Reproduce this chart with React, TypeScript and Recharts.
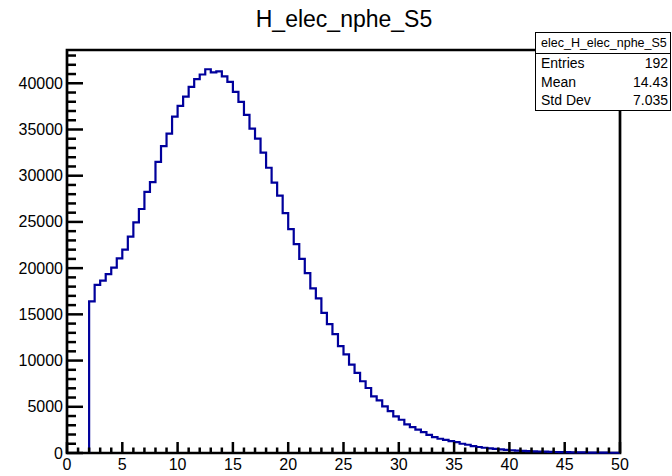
import { LineChart, Line, XAxis, YAxis, ReferenceArea } from "recharts";

// histogram binning (bins of 0.5, first filled bin starts at 2.0)
const BIN_LOW = 2;
const BIN_WIDTH = 0.5;
const X_MAX = 50;
const Y_MAX = 43600;

// bin contents
const COUNTS_2_12 = [16400, 18200, 18650, 19350, 20050, 21050, 22000, 23400, 24950, 26400, 28250, 29300, 31500, 33200, 34550, 36400, 37550, 38550, 39600, 40450];
const COUNTS_12_22 = [40950, 41520, 41170, 41280, 40740, 40150, 39070, 37990, 36580, 35090, 34010, 32490, 30860, 29250, 27850, 25960, 24220, 22590, 21000, 19450];
const COUNTS_22_32 = [17820, 16730, 15170, 13950, 12860, 11560, 10660, 9570, 8660, 7760, 7030, 6130, 5700, 5050, 4540, 3960, 3600, 3090, 2800, 2520];
const COUNTS_32_42 = [2260, 1970, 1710, 1540, 1430, 1280, 1170, 1000, 890, 740, 650, 570, 500, 440, 385, 335, 295, 260, 230, 200];
const COUNTS_42_50 = [180, 160, 140, 122, 107, 95, 84, 74, 65, 57, 50, 44, 38, 33, 29, 25];

const X_MAJOR = [0, 5, 10, 15, 20, 25, 30, 35, 40, 45, 50];
const Y_MAJOR = [0, 5000, 10000, 15000, 20000, 25000, 30000, 35000, 40000];
const X_MINOR_STEP = 1;
const Y_MINOR_STEP = 1000;

const TITLE = "H_elec_nphe_S5";
const STATS_NAME = "elec_H_elec_nphe_S5";
const STATS = [
  ["Entries", "192"],
  ["Mean", "14.43"],
  ["Std Dev", "7.035"],
];

const FONT = '"Liberation Sans", Arial, Helvetica, sans-serif';
const LINE_COLOR = "#00009c";

const counts = [...COUNTS_2_12, ...COUNTS_12_22, ...COUNTS_22_32, ...COUNTS_32_42, ...COUNTS_42_50];

// step points: rise from zero at the first edge, one point per bin low edge, close at the right edge
const data = [
  { x: BIN_LOW, y: 0 },
  ...counts.map((c, i) => ({ x: BIN_LOW + i * BIN_WIDTH, y: c })),
  { x: X_MAX, y: counts[counts.length - 1] },
];

const xTicks: number[] = [];
for (let v = 0; v <= X_MAX; v += X_MINOR_STEP) xTicks.push(v);
const yTicks: number[] = [];
for (let v = 0; v < Y_MAX; v += Y_MINOR_STEP) yTicks.push(v);

// ROOT style: ticks point into the frame
const renderXTick = ({ x, y, payload }: any) => {
  const major = X_MAJOR.includes(payload.value);
  return (
    <g>
      <line x1={x} x2={x} y1={y} y2={y - (major ? 11 : 5.5)} stroke="#000" strokeWidth={2.5} />
      {major && (
        <text x={x} y={y + 17} textAnchor="middle" fontSize={16} fontFamily={FONT} fill="#000">
          {payload.value}
        </text>
      )}
    </g>
  );
};

const renderYTick = ({ x, y, payload }: any) => {
  const major = Y_MAJOR.includes(payload.value);
  return (
    <g>
      <line x1={x} x2={x + (major ? 16 : 9)} y1={y} y2={y} stroke="#000" strokeWidth={2.5} />
      {major && (
        <text x={x - 4} y={y + 5.5} textAnchor="end" fontSize={16} fontFamily={FONT} fill="#000">
          {payload.value}
        </text>
      )}
    </g>
  );
};

export default function App() {
  return (
    <div style={{ position: "fixed", left: 0, top: 0, width: 672, height: 476, background: "#fff", fontFamily: FONT }}>
      <div style={{ position: "absolute", left: 0, width: 688, top: 6, textAlign: "center", fontSize: 23, color: "#000" }}>
        {TITLE}
      </div>
      <LineChart width={672} height={476} data={data} margin={{ top: 50, right: 52, left: 66, bottom: 22 }}>
        <XAxis
          dataKey="x"
          type="number"
          domain={[0, X_MAX]}
          ticks={xTicks}
          interval={0}
          height={1}
          axisLine={false}
          tickLine={false}
          tickSize={0}
          tickMargin={0}
          tick={renderXTick}
        />
        <YAxis
          type="number"
          domain={[0, Y_MAX]}
          ticks={yTicks}
          interval={0}
          width={1}
          axisLine={false}
          tickLine={false}
          tickSize={0}
          tickMargin={0}
          tick={renderYTick}
        />
        <ReferenceArea x1={0} x2={X_MAX} y1={0} y2={Y_MAX} fill="none" fillOpacity={0} stroke="#000" strokeWidth={2.7} ifOverflow="visible" />
        <Line
          type="stepAfter"
          dataKey="y"
          stroke={LINE_COLOR}
          strokeWidth={2.2}
          dot={false}
          activeDot={false}
          isAnimationActive={false}
        />
      </LineChart>
      <div
        style={{
          position: "absolute",
          left: 535,
          top: 32,
          width: 134,
          height: 77,
          border: "1.5px solid #000",
          background: "#fff",
          color: "#000",
        }}
      >
        <div style={{ height: 20, borderBottom: "1.5px solid #000", fontSize: 12.5, lineHeight: "20px", paddingLeft: 5 }}>
          {STATS_NAME}
        </div>
        {STATS.map(([k, v]) => (
          <div key={k} style={{ display: "flex", justifyContent: "space-between", fontSize: 14, height: 18.5, lineHeight: "19px", padding: "0 2px 0 5px" }}>
            <span>{k}</span>
            <span>{v}</span>
          </div>
        ))}
      </div>
    </div>
  );
}
